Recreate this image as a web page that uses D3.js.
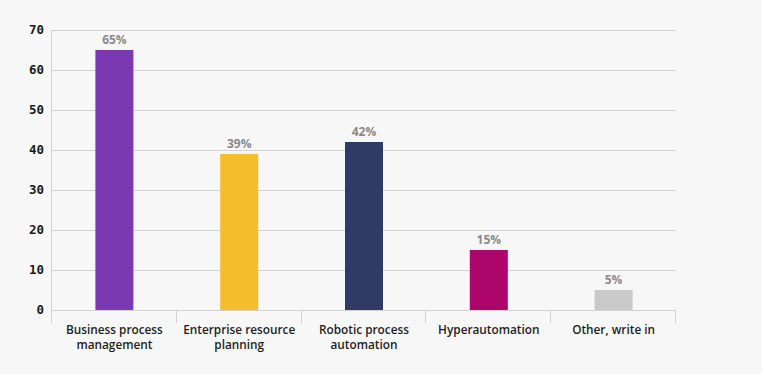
<!DOCTYPE html>
<html><head><meta charset="utf-8">
<script src="https://cdn.jsdelivr.net/npm/d3@7"></script>
<style>
html,body{margin:0;padding:0;background:#f7f7f7;}
svg{display:block;}
</style></head>
<body>
<svg id="chart" width="762" height="374"></svg>
<script>
const categories = [["Business process","management"],["Enterprise resource","planning"],["Robotic process","automation"],["Hyperautomation"],["Other, write in"]];
const values = [65, 39, 42, 15, 5];
const colors = ["#7b39b1", "#f4bd29", "#2f3b64", "#ad0569", "#c9c9c9"];
const yTicks = [0, 10, 20, 30, 40, 50, 60, 70];

const svg = d3.select("#chart");
const m = {left: 52, right: 676, top: 30, bottom: 310};
const keys = categories.map((c, i) => i);
const x = d3.scaleBand().domain(keys).range([m.left, m.right]).paddingInner(0).paddingOuter(0);
const y = d3.scaleLinear().domain([0, 70]).range([m.bottom, m.top]);

svg.append("rect").attr("width", 762).attr("height", 374).attr("fill", "#f7f7f7");

// gridlines
svg.append("g").selectAll("line").data(yTicks).join("line")
  .attr("x1", m.left).attr("x2", m.right)
  .attr("y1", d => Math.round(y(d)) + 0.5).attr("y2", d => Math.round(y(d)) + 0.5)
  .attr("stroke", "#d2d2d2").attr("stroke-width", 1);

// left axis line
svg.append("line").attr("x1", m.left - 0.5).attr("x2", m.left - 0.5)
  .attr("y1", m.top).attr("y2", m.bottom + 13)
  .attr("stroke", "#d2d2d2");

// category ticks
const tickXs = keys.map(k => x(k)).concat([x(keys[keys.length - 1]) + x.bandwidth()]);
svg.append("g").selectAll("line").data(tickXs.slice(1)).join("line")
  .attr("x1", d => Math.round(d) - 0.5).attr("x2", d => Math.round(d) - 0.5)
  .attr("y1", m.bottom).attr("y2", m.bottom + 13)
  .attr("stroke", "#d2d2d2");

// y labels
svg.append("g").selectAll("text").data(yTicks).join("text")
  .attr("x", 44).attr("y", d => y(d)).attr("dy", "0.35em")
  .attr("text-anchor", "end")
  .attr("font-family", "DejaVu Sans Mono").attr("font-weight", "bold").attr("font-size", 12.5)
  .attr("fill", "#1a1a1a").text(d => d);

// bars
const bw = 38;
svg.append("g").selectAll("rect").data(values).join("rect")
  .attr("x", (d, i) => x(i) + x.bandwidth() / 2 - bw / 2)
  .attr("width", bw)
  .attr("y", d => y(d)).attr("height", d => y(0) - y(d))
  .attr("fill", (d, i) => colors[i]);

// value labels
svg.append("g").selectAll("text").data(values).join("text")
  .attr("x", (d, i) => x(i) + x.bandwidth() / 2)
  .attr("y", d => y(d) - 6)
  .attr("text-anchor", "middle")
  .attr("font-family", "Open Sans").attr("font-weight", "bold").attr("font-size", 12)
  .attr("fill", "#8a8a8a").text(d => d + "%");

// category labels (one text per line)
const lineData = [];
categories.forEach((lines, i) => lines.forEach((ln, j) => lineData.push({i, j, ln})));
svg.append("g").selectAll("text").data(lineData).join("text")
  .attr("text-anchor", "middle")
  .attr("x", d => x(d.i) + x.bandwidth() / 2)
  .attr("y", d => 333.5 + d.j * 15)
  .attr("font-family", "Open Sans").attr("font-weight", 600).attr("font-size", 11.8)
  .attr("fill", "#1e1e1e").text(d => d.ln);
</script>
</body></html>
